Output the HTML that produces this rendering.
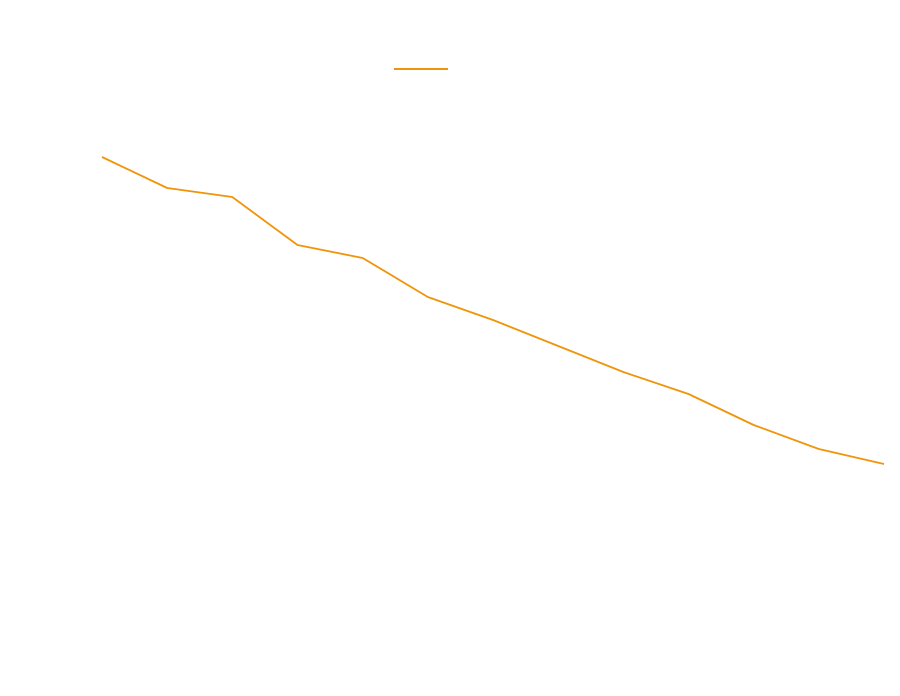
<!DOCTYPE html>
<html>
<head>
<meta charset="utf-8">
<style>
  html, body { margin: 0; padding: 0; background: #ffffff; }
  svg { display: block; font-family: "Liberation Sans", sans-serif; }
</style>
</head>
<body>
<svg id="chart" width="900" height="696" viewBox="0 0 900 696" xmlns="http://www.w3.org/2000/svg">
  <rect x="0" y="0" width="900" height="696" fill="#ffffff"/>
  <line x1="394" y1="69" x2="448" y2="69" stroke="#f0940a" stroke-width="2"/>
  <g id="plot"></g>
</svg>
<script>
const categories = [0, 1, 2, 3, 4, 5, 6, 7, 8, 9, 10, 11, 12];
const seriesValues = [88.6, 82.4, 80.6, 71.0, 68.4, 60.6, 56.0, 50.8, 45.6, 41.2, 35.0, 30.2, 27.2];

function xScale(i) { return 102 + (i - categories[0]) * (884 - 102) / (categories[categories.length - 1] - categories[0]); }
function yScale(v) { return 600 - v * 5; }

const plot = document.getElementById('plot');
const pts = categories.map((c, i) => xScale(c).toFixed(1) + ',' + yScale(seriesValues[i]).toFixed(1)).join(' ');
const line = document.createElementNS('http://www.w3.org/2000/svg', 'polyline');


line.setAttribute('points', pts);
line.setAttribute('fill', 'none');
line.setAttribute('stroke', '#f0940a');
line.setAttribute('stroke-width', '1.8');
line.setAttribute('stroke-linejoin', 'round');
plot.appendChild(line);
</script>
</body>
</html>
